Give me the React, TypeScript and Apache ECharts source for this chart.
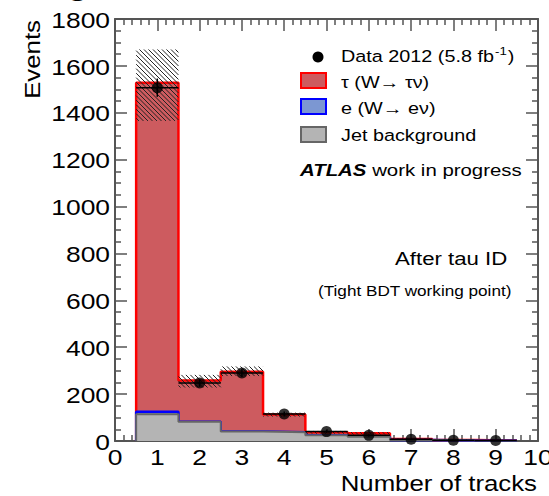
import React, { useEffect, useRef } from "react";
import * as echarts from "echarts";

// Track-multiplicity histogram after tau identification
const binCenters = [1, 2, 3, 4, 5, 6, 7, 8, 9];
const tauSignal = [1403, 176, 255, 76, 13, 15, 4, 2, 1];
const eleBkg = [11, 0, 0, 0, 0, 0, 0, 0, 0];
const jetBkg = [114, 82, 40, 37, 24, 18, 4, 2, 1];
const dataCounts = [1507, 247, 290, 115, 40, 24, 7, 3, 2];
const dataErrors = [39, 16, 17, 11, 6, 5, 3, 2, 1];
const bandLow = [1365, 228, 277, 104, 31, 28, 5, 2, 1];
const bandHigh = [1670, 282, 318, 121, 43, 38, 11, 6, 3];

const xTicks = [0, 1, 2, 3, 4, 5, 6, 7, 8, 9, 10];
const yTicks = [0, 200, 400, 600, 800, 1000, 1200, 1400, 1600, 1800];

const legendLabels = ["Data 2012 (5.8 fb", "τ (W→ τν)", "e (W→ eν)", "Jet background"];

const FONT = '"Liberation Sans", Arial, Helvetica, sans-serif';
const SX = 1.2; // horizontal text stretch
const AXIS_COLOR = "#555555";

const TAU_FILL = "#cd5b5f";
const TAU_LINE = "#ff0000";
const ELE_FILL = "#7c97d2";
const ELE_LINE = "#0000ff";
const JET_FILL = "#b4b4b4";
const JET_LINE = "#666666";

// cumulative stack heights
const jetTop = jetBkg.slice();
const eleTop = jetBkg.map((v, i) => v + eleBkg[i]);
const tauTop = eleTop.map((v, i) => v + tauSignal[i]);

// outline points for a step histogram (step: 'end')
function stepPoints(values: number[]): number[][] {
  const first = binCenters[0] - 0.5;
  const last = binCenters[binCenters.length - 1] + 0.5;
  const pts: number[][] = [[first, 0]];
  values.forEach((v, i) => pts.push([binCenters[i] - 0.5, v]));
  pts.push([last, values[values.length - 1]]);
  pts.push([last, 0]);
  return pts;
}

function histSeries(name: string, values: number[], fill: string, line: string, lw: number, z: number) {
  return {
    name,
    type: "line",
    step: "end",
    data: stepPoints(values),
    showSymbol: false,
    symbol: "none",
    lineStyle: { color: line, width: lw },
    areaStyle: { color: fill, opacity: 1 },
    z,
    silent: true,
  };
}

function measure(text: string, size: number, weight = "normal", style = "normal"): number {
  const c = document.createElement("canvas").getContext("2d");
  if (!c) return text.length * size * 0.55;
  c.font = `${style} ${weight} ${size}px ${FONT}`;
  return c.measureText(text).width;
}

function label(text: string, x: number, y: number, size: number, align: string, vAlign: string, extra: any = {}) {
  return {
    type: "text",
    x,
    y,
    scaleX: SX,
    silent: true,
    z: 100,
    ...extra,
    style: {
      text,
      fontSize: size,
      fontFamily: FONT,
      fill: "#000",
      align,
      verticalAlign: vAlign,
      ...(extra.style || {}),
    },
  };
}

export default function App() {
  const ref = useRef<HTMLDivElement>(null);

  useEffect(() => {
    if (!ref.current) return;
    const chart = echarts.init(ref.current, null, { renderer: "svg" });

    const axisCommon = {
      type: "value",
      axisLine: { show: true, onZero: false, lineStyle: { color: AXIS_COLOR, width: 2 } },
      axisTick: { show: true, inside: true, length: 12, lineStyle: { color: AXIS_COLOR, width: 1.5 } },
      axisLabel: { show: false },
      splitLine: { show: false },
    };

    const option: any = {
      animation: false,
      grid: { left: 115, right: 11, top: 19, bottom: 55, containLabel: false },
      xAxis: [
        {
          ...axisCommon,
          min: 0,
          max: 10,
          interval: 1,
          position: "bottom",
          minorTick: { show: true, splitNumber: 5, length: 6, lineStyle: { color: AXIS_COLOR, width: 1.5 } },
        },
        {
          ...axisCommon,
          min: 0,
          max: 10,
          interval: 1,
          position: "top",
          minorTick: { show: true, splitNumber: 5, length: 6, lineStyle: { color: AXIS_COLOR, width: 1.5 } },
        },
      ],
      yAxis: [
        {
          ...axisCommon,
          min: 0,
          max: 1800,
          interval: 200,
          position: "left",
          minorTick: { show: true, splitNumber: 4, length: 6, lineStyle: { color: AXIS_COLOR, width: 1.5 } },
        },
        {
          ...axisCommon,
          min: 0,
          max: 1800,
          interval: 200,
          position: "right",
          minorTick: { show: true, splitNumber: 4, length: 6, lineStyle: { color: AXIS_COLOR, width: 1.5 } },
        },
      ],
      series: [
        histSeries("tau", tauTop, TAU_FILL, TAU_LINE, 2.5, 1),
        histSeries("ele", eleTop, ELE_FILL, ELE_LINE, 2.5, 2),
        histSeries("jet", jetTop, JET_FILL, JET_LINE, 2, 3),
        {
          name: "uncertainty",
          type: "custom",
          z: 4,
          silent: true,
          data: binCenters.map((c, i) => [c, bandLow[i], bandHigh[i]]),
          encode: { x: 0, y: [1, 2] },
          renderItem: (_params: any, api: any) => {
            const c = api.value(0);
            const lo = api.value(1);
            const hi = api.value(2);
            const p0 = api.coord([c - 0.5, hi]);
            const p1 = api.coord([c + 0.5, lo]);
            const x0 = p0[0], y0 = p0[1], x1 = p1[0], y1 = p1[1];
            const s = 4.5;
            const children: any[] = [];
            const kMin = Math.ceil((y0 - x1) / s);
            const kMax = Math.floor((y1 - x0) / s);
            for (let k = kMin; k <= kMax; k++) {
              const cc = k * s;
              const xa = Math.max(x0, y0 - cc);
              const xb = Math.min(x1, y1 - cc);
              if (xb > xa) {
                children.push({
                  type: "line",
                  shape: { x1: xa, y1: xa + cc, x2: xb, y2: xb + cc },
                  style: { stroke: "#222", lineWidth: 1 },
                });
              }
            }
            return { type: "group", children };
          },
        },
        {
          name: "dataErr",
          type: "custom",
          z: 5,
          silent: true,
          data: binCenters.map((c, i) => [c, dataCounts[i], dataErrors[i]]),
          encode: { x: 0, y: 1 },
          renderItem: (_params: any, api: any) => {
            const c = api.value(0);
            const v = api.value(1);
            const e = api.value(2);
            const top = api.coord([c, v + e]);
            const bot = api.coord([c, Math.max(0, v - e)]);
            const l = api.coord([c - 0.5, v]);
            const r = api.coord([c + 0.5, v]);
            return {
              type: "group",
              children: [
                { type: "line", shape: { x1: top[0], y1: top[1], x2: bot[0], y2: bot[1] }, style: { stroke: "#000", lineWidth: 1.5 } },
                { type: "line", shape: { x1: l[0], y1: l[1], x2: r[0], y2: r[1] }, style: { stroke: "#000", lineWidth: 1.5 } },
              ],
            };
          },
        },
        {
          name: "data",
          type: "scatter",
          z: 6,
          silent: true,
          symbol: "circle",
          symbolSize: 11,
          itemStyle: { color: "#000" },
          data: binCenters.map((c, i) => [c, dataCounts[i]]),
        },
      ],
    };

    chart.setOption(option);

    const px = (x: number, y: number): number[] => chart.convertToPixel({ gridIndex: 0 }, [x, y]) as number[];
    const g: any[] = [];

    // tick labels
    yTicks.forEach((v) => {
      const p = px(0, v);
      g.push(label(String(v), p[0] - 5, p[1] + 1, 22, "right", "middle"));
    });
    xTicks.forEach((v) => {
      const p = px(v, 0);
      g.push(label(String(v), p[0], p[1] + 16, 22, "center", "middle"));
    });

    // axis titles
    g.push(label("Events", 33, 20, 21.5, "right", "middle", { rotation: Math.PI / 2 }));
    g.push(label("Number of tracks", 537, 484, 21.5, "right", "middle"));

    // clipped heading glyph at the top edge
    g.push(label("e", 77, 6, 30, "center", "bottom", { style: { fontWeight: "bold" } }));

    // legend
    const lx = 341;
    const fs = 16.5;
    g.push({ type: "circle", shape: { cx: 318, cy: 57, r: 5.5 }, style: { fill: "#000" }, silent: true, z: 100 });
    g.push(label(legendLabels[0], lx, 57, fs, "left", "middle"));
    const wData = measure(legendLabels[0], fs) * SX;
    g.push(label("-1", lx + wData + 1, 51, 11, "left", "middle"));
    const wSup = measure("-1", 11) * SX;
    g.push(label(")", lx + wData + wSup + 2, 57, fs, "left", "middle"));

    const boxes = [
      { y: 73, fill: TAU_FILL, stroke: TAU_LINE, text: legendLabels[1], ty: 83 },
      { y: 99, fill: ELE_FILL, stroke: ELE_LINE, text: legendLabels[2], ty: 109 },
      { y: 127, fill: JET_FILL, stroke: JET_LINE, text: legendLabels[3], ty: 136 },
    ];
    boxes.forEach((b) => {
      g.push({
        type: "rect",
        shape: { x: 301, y: b.y, width: 25, height: 15 },
        style: { fill: b.fill, stroke: b.stroke, lineWidth: 2 },
        silent: true,
        z: 100,
      });
      g.push(label(b.text, lx, b.ty, fs, "left", "middle"));
    });

    // experiment label
    const af = 17;
    const atlasW = measure("ATLAS", af, "bold", "italic") * SX;
    g.push(label("ATLAS", 300, 170, af, "left", "middle", { style: { fontWeight: "bold", fontStyle: "italic" } }));
    g.push(label(" work in progress", 300 + atlasW, 170, af, "left", "middle"));

    // selection annotation
    g.push(label("After tau ID", 395, 259, 18.5, "left", "middle"));
    g.push(label("(Tight BDT working point)", 318, 291, 14.3, "left", "middle"));

    chart.setOption({ graphic: g });

    return () => chart.dispose();
  }, []);

  return (
    <div
      ref={ref}
      style={{ position: "fixed", left: 0, top: 0, width: 549, height: 496, background: "#fff" }}
    />
  );
}
